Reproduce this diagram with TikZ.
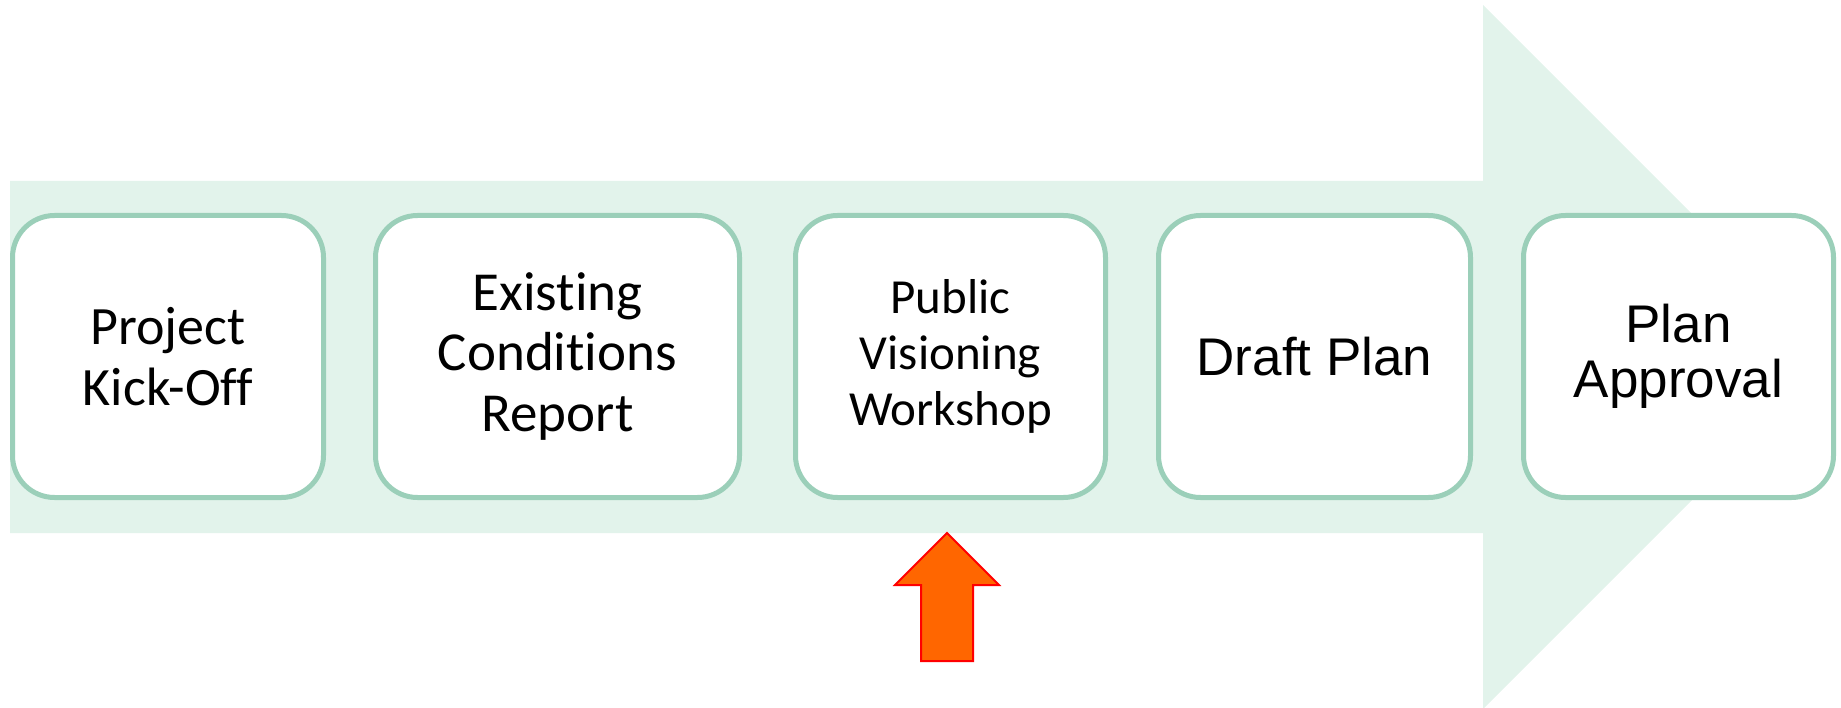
\documentclass[tikz,border=0pt]{standalone}
\usepackage{fontspec}
\newfontfamily\carlito[Ligatures=NoCommon]{Carlito}
\newfontfamily\arialfont{Liberation Sans}
\definecolor{bandfill}{HTML}{E2F3EB}
\definecolor{boxline}{HTML}{9BCFB9}
\definecolor{orangefill}{HTML}{FF6600}
\definecolor{orangeline}{HTML}{FF0000}
\tikzset{
  stepbox/.style={draw=boxline, line width=5pt, fill=white, rounded corners=42pt,
    minimum height=282pt, align=center, inner sep=0pt, text=black},
  band/.style={fill=bandfill, draw=none},
  pointer/.style={fill=orangefill, draw=orangeline, line width=2pt, line join=miter}
}
\begin{document}
\begin{tikzpicture}[x=1pt,y=-1pt]
\useasboundingbox (0,0) rectangle (1841,708);
% big background arrow
\fill[band] (10,181) -- (1483,181) -- (1483,5) -- (1835,357) -- (1483,709) -- (1483,533) -- (10,533) -- cycle;
% step boxes
\node[stepbox, minimum width=311pt, font=\carlito\fontsize{54}{61}\selectfont] (b1) at (168,356.5)
  {Project\\Kick-Off};
\node[stepbox, minimum width=364pt, font=\carlito\fontsize{55}{60.5}\selectfont] (b2) at (557.5,356.5)
  {Existing\\Conditions\\Report};
\node[stepbox, minimum width=310pt, font=\carlito\fontsize{49}{56}\selectfont] (b3) at (950.5,356.5)
  {Public\\Visioning\\Workshop};
\node[stepbox, minimum width=312pt, font=\arialfont\fontsize{53}{60}\selectfont] (b4) at (1314.5,356.5)
  {Draft Plan};
\node[stepbox, minimum width=310pt, font=\arialfont\fontsize{53}{55}\selectfont] (b5) at (1678.5,356.5)
  {Plan\\Approval};
% orange pointer arrow
\draw[pointer] (947,533) -- (999,585) -- (973,585) -- (973,661) -- (921,661) -- (921,585) -- (895,585) -- cycle;
\end{tikzpicture}
\end{document}
